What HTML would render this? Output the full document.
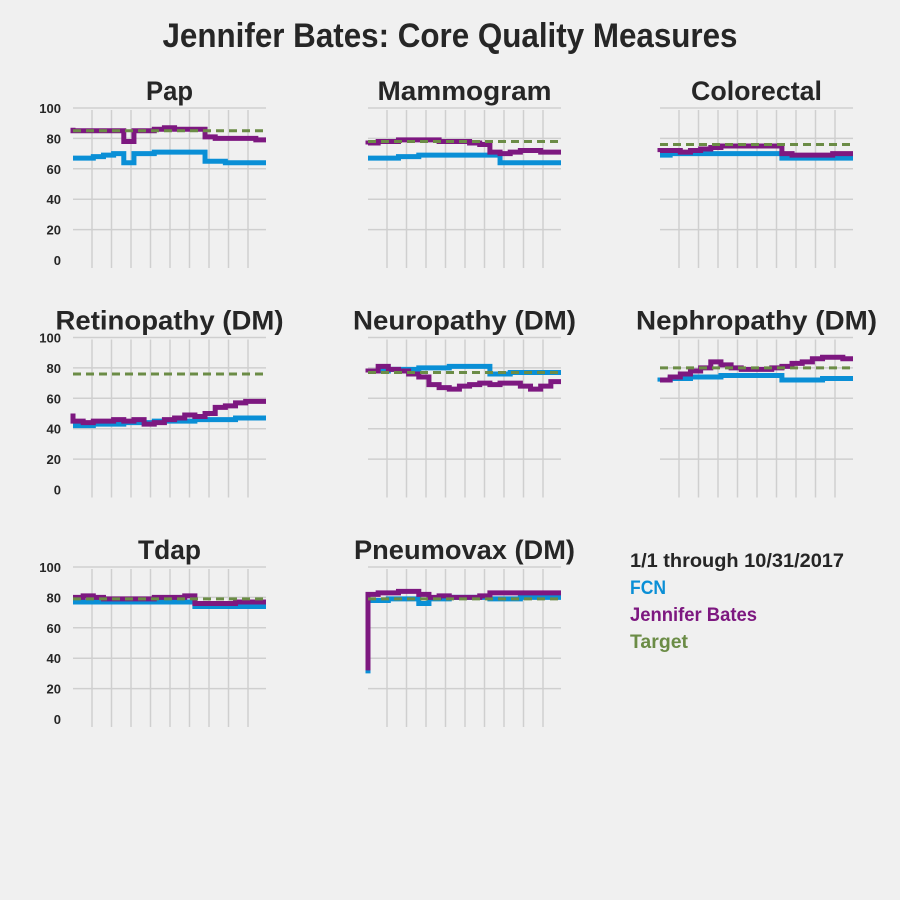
<!DOCTYPE html>
<html><head><meta charset="utf-8"><style>
html,body{margin:0;padding:0;background:#f0f0f0;}
svg{display:block;font-family:"Liberation Sans",sans-serif;font-weight:bold;}
</style></head><body>
<svg id="chart" width="900" height="900" viewBox="0 0 900 900">
<rect width="900" height="900" fill="#f0f0f0"/>
<text x="450" y="47" text-anchor="middle" font-size="34" fill="#262626" textLength="575" lengthAdjust="spacingAndGlyphs">Jennifer Bates: Core Quality Measures</text>
<g>
<text x="630" y="567" font-size="19" fill="#262626" textLength="214" lengthAdjust="spacingAndGlyphs">1/1 through 10/31/2017</text>
<text x="630" y="594" font-size="19" fill="#0a8fd6" textLength="36" lengthAdjust="spacingAndGlyphs">FCN</text>
<text x="630" y="621" font-size="19" fill="#7d1880" textLength="127" lengthAdjust="spacingAndGlyphs">Jennifer Bates</text>
<text x="630" y="648" font-size="19" fill="#6b8c46" textLength="58" lengthAdjust="spacingAndGlyphs">Target</text>
</g>
</svg>
<script>
const measures = ["Pap","Mammogram","Colorectal","Retinopathy (DM)","Neuropathy (DM)","Nephropathy (DM)","Tdap","Pneumovax (DM)"];
const titleWidths = [47,174,131,228,223,241,63,221];
const targets = [85,78,76,76,77,80,79,79];
const fcnValues = [
 [67,67,67,68,69,70,64,70,70,71,71,71,71,71,65,65,64,64,64,64],
 [67,67,67,67,68,68,69,69,69,69,69,69,69,69,64,64,64,64,64,64],
 [69,69,70,70,70,70,70,70,70,70,70,70,70,67,67,67,67,67,67,67],
 [42,42,42,43,43,43,44,44,44,45,45,45,45,46,46,46,46,47,47,47],
 [78,78,78,79,79,79,80,80,80,81,81,81,81,76,76,77,77,77,77,77],
 [71,72,73,73,74,74,74,75,75,75,75,75,75,72,72,72,72,73,73,73],
 [77,77,77,77,77,77,77,77,77,77,77,77,77,74,74,74,74,74,74,74],
 [30,78,78,79,79,79,76,79,79,80,80,80,80,79,79,79,80,80,80,80]
];
const batesValues = [
 [87,85,85,85,85,85,78,85,85,86,87,86,86,86,81,80,80,80,80,79],
 [76,77,78,78,79,79,79,79,78,78,78,77,76,71,70,71,72,72,71,71],
 [71,72,72,71,72,73,74,75,75,75,75,75,75,70,69,69,69,69,70,70],
 [50,45,44,45,45,46,45,46,43,44,46,47,49,48,50,54,55,57,58,58],
 [77,78,81,79,78,76,74,69,67,66,68,69,70,69,70,70,68,66,68,71],
 [72,72,74,76,78,80,84,82,80,79,79,79,80,81,83,84,86,87,87,86],
 [80,80,81,80,79,79,79,79,79,80,80,80,81,76,76,76,76,77,77,77],
 [32,82,83,83,84,84,82,80,81,80,80,80,81,83,83,83,83,83,83,83]
];
const yTicks = [0,20,40,60,80,100];

const NS = "http://www.w3.org/2000/svg";
const svg = document.getElementById("chart");
function mk(tag, attrs, parent){const e=document.createElementNS(NS,tag);for(const k in attrs)e.setAttribute(k,attrs[k]);parent.appendChild(e);return e;}
const W = 193, H = 152;
measures.forEach((m, i) => {
  const col = i % 3, row = Math.floor(i / 3);
  const x0 = 73 + col * 295 - (col === 2 ? 3 : 0), y0 = 108 + row * 229.5;
  const xs = v => x0 + v * W / (fcnValues[i].length - 1);
  const ys = v => y0 + H - v * H / 100;
  const g = mk("g", {}, svg);
  
  
  const t = mk("text", {x: x0 + W/2, y: y0 - 8, "text-anchor":"middle", "font-size":"27", fill:"#262626", textLength: titleWidths[i], lengthAdjust:"spacingAndGlyphs"}, g);
  t.textContent = m;
  
  
  yTicks.forEach(v => {
    if (v > 0) {
      const l = mk("line", {x1:x0, x2:x0+W, y1:ys(v), y2:ys(v), stroke:"#cfcfcf", "stroke-width":1.5}, g);
      
      
    }
    if (col === 0) {
      const tl = mk("text", {x:61, y:ys(v)+5, "text-anchor":"end", "font-size":"13", fill:"#262626"}, g);
      tl.textContent = v;
      
      
    }
  });
  for (let k = 0; k < 9; k++) {
    const vx = x0 + 19 + k * 19.5;
    const l = mk("line", {x1:vx, x2:vx, y1:y0+2, y2:y0+H+8, stroke:"#cfcfcf", "stroke-width":1.5}, g);
    
    
  }
  function path(vals){
    let d = "M" + xs(0) + "," + ys(vals[0]);
    for (let j = 1; j < vals.length; j++) d += " V" + ys(vals[j]) + " H" + xs(j);
    return d;
  }
  const tg = mk("line", {x1:x0, x2:x0+W, y1:ys(targets[i]), y2:ys(targets[i]), stroke:"#6b8c46", "stroke-width":3, "stroke-dasharray":"8,5"}, g);
  const fl = mk("path", {d: path(fcnValues[i]), fill:"none", stroke:"#0a8fd6", "stroke-width":5}, g);
  
  
  const bl = mk("path", {d: path(batesValues[i]), fill:"none", stroke:"#7d1880", "stroke-width":5}, g);
  
  
  g.appendChild(tg);
  
  
});
</script>
</body></html>
